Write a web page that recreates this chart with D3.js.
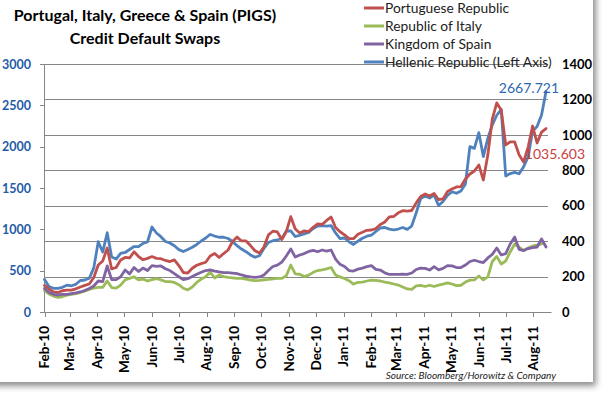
<!DOCTYPE html>
<html><head><meta charset="utf-8">
<script src="https://cdn.jsdelivr.net/npm/d3@7"></script>
<style>body{margin:0;background:#fff;} svg{display:block;}</style>
</head><body><svg id="c" width="607" height="398"></svg>
<script>
// ---- data (CDS spreads, bps), one point every 5 days from startDate ----
const startDate = "2010-02-01";
const stepDays = 5;
const greece = [393,308,287,287,299,324,317,335,381,387,
  408,532,850,726,959,665,641,708,720,756,
  792,792,831,847,1028,956,911,853,835,802,
  754,732,756,783,817,859,895,938,919,904,
  904,889,853,802,762,729,690,662,681,768,
  841,862,871,889,980,980,913,928,946,964,
  1010,1040,1046,1040,1046,956,889,895,850,817,
  856,892,917,929,974,1016,1022,1002,994,1004,
  1022,1000,1040,1198,1373,1403,1379,1415,1288,1337,
  1409,1455,1436,1464,1548,2000,1980,2169,1880,2100,
  2262,2380,2450,1645,1675,1688,1672,1758,1875,2190,
  2244,2383,2667.721];
const portugal = [150,130,113,110,120,124,124,131,141,150,
  158,195,265,288,361,243,251,294,308,305,
  340,313,295,303,313,303,301,291,285,294,
  262,223,220,247,264,273,281,316,330,308,
  330,350,398,423,401,401,375,346,333,367,
  435,456,452,409,454,538,469,446,458,454,
  478,497,494,517,536,477,453,435,414,414,
  439,450,461,463,471,494,508,537,539,560,
  572,570,573,615,652,666,655,669,635,638,
  680,694,706,708,751,779,796,830,745,886,
  1089,1180,1140,943,960,960,886,847,931,1050,
  954,1016,1035.603];
const spain = [133,110,100,96,100,100,104,108,113,121,
  133,147,175,171,260,183,183,199,237,215,
  251,229,248,234,262,257,260,244,234,217,
  199,183,188,200,213,224,234,238,231,226,
  222,222,220,217,209,203,198,196,198,209,
  234,257,265,282,316,356,310,322,330,342,
  348,340,350,344,350,299,269,257,234,231,
  242,248,256,262,241,237,221,212,212,212,
  213,212,220,240,248,246,237,256,238,246,
  262,260,251,251,265,285,292,285,279,305,
  325,361,322,330,384,423,353,347,358,364,
  367,412,367];
const italy = [121,102,90,83,86,95,100,104,110,119,
  128,135,139,139,175,138,135,152,181,190,
  199,181,186,175,183,189,181,172,171,167,
  154,134,125,141,167,186,199,226,192,209,
  200,196,193,190,190,185,180,177,179,182,
  184,187,190,190,205,265,215,213,200,208,
  224,234,238,243,251,209,198,189,177,158,
  167,169,175,180,178,175,169,164,158,152,
  141,130,128,147,150,144,151,144,152,157,
  164,158,149,151,169,180,181,203,181,198,
  285,313,271,288,339,384,367,347,361,373,
  378,384];
const monthLabels = ["Feb-10","Mar-10","Apr-10","May-10","Jun-10","Jul-10","Aug-10","Sep-10","Oct-10","Nov-10","Dec-10",
  "Jan-11","Feb-11","Mar-11","Apr-11","May-11","Jun-11","Jul-11","Aug-11"];
const leftTicks = [0,500,1000,1500,2000,2500,3000];
const rightTicks = [0,200,400,600,800,1000,1200,1400];
const seriesNames = ["Portuguese Republic","Republic of Italy","Kingdom of Spain","Hellenic Republic (Left Axis)"];
const seriesColors = ["#C0504D","#9BBB59","#8064A2","#4F81BD"];
const titleLines = ["Portugal, Italy, Greece & Spain (PIGS)","Credit Default Swaps"];
const sourceText = "Source:  Bloomberg/Horowitz  & Company";

// ---- drawing ----
const svg = d3.select("#c");
const parse = d3.timeParse("%Y-%m-%d");
const t0 = parse(startDate);
const dateAt = i => d3.timeDay.offset(t0, i * stepDays);
const monthDates = monthLabels.map(s => d3.timeParse("%b-%y")(s));

const x = d3.scaleTime().domain([parse("2010-02-01"), parse("2011-08-21")]).range([44.5, 551.4]);
const yL = d3.scaleLinear().domain([0, 3000]).range([312, 64]);
const yR = d3.scaleLinear().domain([0, 1400]).range([312, 64]);
const font = "Lato, 'Open Sans', sans-serif";
const gridColor = "#868686";

const defs = svg.append("defs");
const f = defs.append("filter").attr("id","sh").attr("x","-10%").attr("y","-10%").attr("width","130%").attr("height","130%");
f.append("feDropShadow").attr("dx",3).attr("dy",4).attr("stdDeviation",3).attr("flood-color","#000").attr("flood-opacity",0.45);
svg.append("rect").attr("x",-10).attr("y",-10).attr("width",603).attr("height",392).attr("fill","#fff").attr("filter","url(#sh)");

// gridlines (right axis)
svg.append("g").selectAll("line").data(rightTicks.filter(d => d > 0)).join("line")
  .attr("x1", 44.5).attr("x2", 548).attr("y1", d => Math.round(yR(d)) + 0.5).attr("y2", d => Math.round(yR(d)) + 0.5)
  .attr("stroke", gridColor).attr("stroke-width", 1);

// left axis
const gl = svg.append("g");
gl.append("line").attr("x1",44.5).attr("x2",44.5).attr("y1",yL(3000)).attr("y2",yL(0)+0.5).attr("stroke",gridColor);
gl.selectAll("line.t").data(leftTicks).join("line").attr("class","t")
  .attr("x1",40).attr("x2",44.5).attr("y1",d=>Math.round(yL(d))+0.5).attr("y2",d=>Math.round(yL(d))+0.5).attr("stroke",gridColor);
gl.selectAll("text").data(leftTicks).join("text")
  .attr("x",31).attr("y",d=>yL(d)).attr("dy","0.36em").attr("text-anchor","end")
  .attr("font-family",font).attr("font-weight","bold").attr("font-size",12.5).attr("fill","#1F5BA6").text(d=>d);

// right axis labels
svg.append("g").selectAll("text").data(rightTicks).join("text")
  .attr("x",562).attr("y",d=>yR(d)).attr("dy","0.36em").attr("text-anchor","start")
  .attr("font-family",font).attr("font-weight","bold").attr("font-size",13).attr("fill","#000").text(d=>d);

// x axis
const gx = svg.append("g");
gx.append("line").attr("x1",44.5).attr("x2",551.5).attr("y1",312.5).attr("y2",312.5).attr("stroke",gridColor);
gx.selectAll("line.t").data(monthDates).join("line").attr("class","t")
  .attr("x1",d=>Math.round(x(d))+0.5).attr("x2",d=>Math.round(x(d))+0.5).attr("y1",312.5).attr("y2",317).attr("stroke",gridColor);
gx.selectAll("text").data(monthDates).join("text")
  .attr("transform",d=>`translate(${x(d)},326) rotate(-90)`).attr("dy","0.36em").attr("text-anchor","end")
  .attr("font-family",font).attr("font-weight","bold").attr("font-size",13.5).attr("fill","#000")
  .text((d,i)=>monthLabels[i]);

// lines
const mk = (scale) => d3.line().x((d,i)=>x(dateAt(i))).y(d=>scale(d));
const series = [
  {v: greece, s: yL, c: seriesColors[3]},
  {v: portugal, s: yR, c: seriesColors[0]},
  {v: italy, s: yR, c: seriesColors[1]},
  {v: spain, s: yR, c: seriesColors[2]}
];
series.forEach(o => {
  svg.append("path").datum(o.v).attr("d", mk(o.s)).attr("fill","none")
    .attr("stroke", o.c).attr("stroke-width", 2.8).attr("stroke-linejoin","round").attr("stroke-linecap","round");
});

// end labels
const gLast = greece.length - 1, pLast = portugal.length - 1;
svg.append("text").attr("x", x(dateAt(gLast)) + 13).attr("y", yL(greece[gLast]) - 4).attr("dy","0.36em")
  .attr("text-anchor","end").attr("font-family",font).attr("font-size",14).attr("fill","#2E68B0")
  .text(d3.format(".3f")(greece[gLast]));
svg.append("text").attr("x", x(dateAt(pLast)) + 39).attr("y", yR(portugal[pLast]) + 25).attr("dy","0.36em")
  .attr("text-anchor","end").attr("font-family",font).attr("font-size",14).attr("fill","#C8403E")
  .text(d3.format(".3f")(portugal[pLast]));

// title
svg.append("g").selectAll("text").data(titleLines).join("text")
  .attr("x",145).attr("y",(d,i)=>15 + i*23).attr("dy","0.36em").attr("text-anchor","middle")
  .attr("font-family",font).attr("font-weight","bold").attr("font-size",16).attr("fill","#000").text(d=>d);

// legend
const lg = svg.append("g").selectAll("g").data(seriesNames).join("g")
  .attr("transform",(d,i)=>`translate(0,${8 + i*18})`);
lg.append("line").attr("x1",364).attr("x2",384).attr("stroke",(d,i)=>seriesColors[i]).attr("stroke-width",3);
lg.append("text").attr("x",385).attr("dy","0.36em").attr("font-family",font).attr("font-size",13.8)
  .attr("fill","#222").text(d=>d);

// source
svg.append("text").attr("x",556).attr("y",379).attr("text-anchor","end")
  .attr("font-family",font).attr("font-style","italic").attr("font-size",10).attr("fill","#222").text(sourceText);
</script></body></html>
